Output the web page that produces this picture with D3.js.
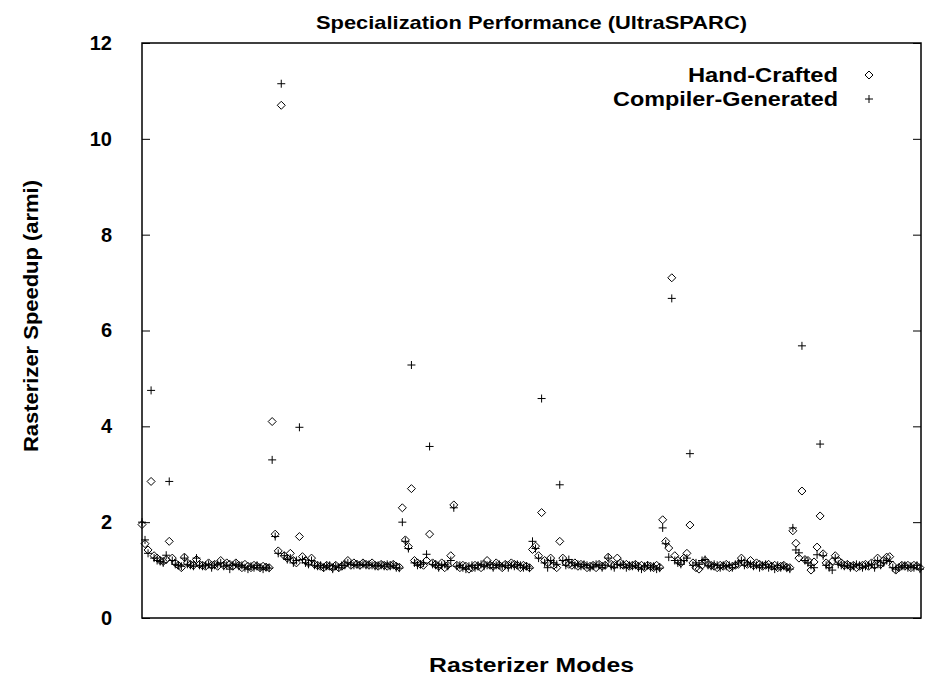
<!DOCTYPE html>
<html>
<head>
<meta charset="utf-8">
<script src="https://cdn.jsdelivr.net/npm/d3@7"></script>
<style>
  body { margin: 0; background: #fff; }
  svg text { font-family: "Liberation Sans", Arial, sans-serif; font-weight: bold; }
</style>
</head>
<body>
<div id="chart"></div>
<script>
const yTicks = [0, 2, 4, 6, 8, 10, 12];

// six groups of 43 rasterizer modes
const handCrafted = [
  // group 1
  1.95, 1.55, 1.42, 2.85, 1.3, 1.25, 1.2, 1.18, 1.22, 1.6, 1.25, 1.15, 1.1, 1.05, 1.27, 1.15, 1.12, 1.1, 1.22, 1.12, 1.1, 1.08,
  1.15, 1.1, 1.12, 1.08, 1.2, 1.1, 1.15, 1.12, 1.08, 1.15, 1.1, 1.05, 1.12, 1.08, 1.05, 1.1, 1.08, 1.05, 1.08, 1.06, 1.05,
  // group 2
  4.1, 1.75, 1.4, 10.7, 1.3, 1.25, 1.35, 1.2, 1.15, 1.7, 1.28, 1.2, 1.15, 1.25, 1.12, 1.1, 1.08, 1.05, 1.1, 1.08, 1.05, 1.1,
  1.05, 1.08, 1.12, 1.2, 1.1, 1.15, 1.12, 1.1, 1.15, 1.12, 1.1, 1.15, 1.1, 1.08, 1.12, 1.1, 1.08, 1.1, 1.12, 1.08, 1.06,
  // group 3
  2.3, 1.63, 1.49, 2.7, 1.2, 1.15, 1.12, 1.1, 1.2, 1.75, 1.15, 1.12, 1.08, 1.15, 1.05, 1.1, 1.3, 2.36, 1.1, 1.05, 1.1, 1.08,
  1.02, 1.05, 1.1, 1.08, 1.05, 1.12, 1.2, 1.1, 1.08, 1.15, 1.1, 1.05, 1.12, 1.1, 1.15, 1.12, 1.1, 1.05, 1.1, 1.08, 1.05,
  // group 4
  1.43, 1.5, 1.3, 2.2, 1.2, 1.15, 1.25, 1.1, 1.05, 1.6, 1.25, 1.15, 1.12, 1.1, 1.15, 1.08, 1.12, 1.1, 1.05, 1.08, 1.1, 1.05,
  1.12, 1.08, 1.1, 1.27, 1.12, 1.1, 1.25, 1.15, 1.1, 1.12, 1.08, 1.1, 1.12, 1.08, 1.1, 1.05, 1.1, 1.08, 1.05, 1.1, 1.06,
  // group 5
  2.05, 1.6, 1.46, 7.1, 1.3, 1.2, 1.15, 1.25, 1.35, 1.94, 1.15, 1.05, 1.02, 1.1, 1.2, 1.12, 1.1, 1.08, 1.05, 1.1, 1.08, 1.12,
  1.05, 1.08, 1.1, 1.12, 1.25, 1.15, 1.12, 1.2, 1.1, 1.15, 1.12, 1.08, 1.1, 1.12, 1.08, 1.1, 1.05, 1.08, 1.1, 1.06, 1.05,
  // group 6
  1.82, 1.56, 1.25, 2.65, 1.22, 1.2, 1.0, 1.17, 1.48, 2.13, 1.34, 1.15, 1.1, 1.18, 1.3, 1.2, 1.15, 1.1, 1.12, 1.08, 1.1, 1.05,
  1.08, 1.1, 1.12, 1.08, 1.15, 1.1, 1.25, 1.12, 1.2, 1.27, 1.28, 1.1, 1.0, 1.05, 1.1, 1.08, 1.1, 1.05, 1.1, 1.08, 1.05
];

const compilerGenerated = [
  // group 1
  2.0, 1.63, 1.35, 4.75, 1.25, 1.2, 1.18, 1.15, 1.31, 2.85, 1.2, 1.12, 1.1, 1.08, 1.25, 1.12, 1.1, 1.08, 1.25, 1.1, 1.08, 1.1,
  1.12, 1.05, 1.1, 1.12, 1.15, 1.08, 1.1, 1.02, 1.1, 1.12, 1.08, 1.1, 1.05, 1.02, 1.08, 1.05, 1.1, 1.05, 1.02, 1.06, 1.04,
  // group 2
  3.3, 1.7, 1.35, 11.15, 1.3, 1.22, 1.25, 1.15, 1.2, 3.98, 1.22, 1.15, 1.12, 1.2, 1.1, 1.08, 1.1, 1.05, 1.08, 1.1, 1.02, 1.08,
  1.05, 1.1, 1.1, 1.15, 1.12, 1.1, 1.12, 1.1, 1.12, 1.1, 1.12, 1.1, 1.08, 1.1, 1.1, 1.08, 1.12, 1.08, 1.1, 1.05, 1.04,
  // group 3
  2.0, 1.6, 1.45, 5.28, 1.15, 1.1, 1.12, 1.15, 1.33, 3.58, 1.12, 1.1, 1.05, 1.1, 1.12, 1.08, 1.2, 2.3, 1.08, 1.1, 1.05, 1.02,
  1.08, 1.1, 1.05, 1.1, 1.12, 1.08, 1.1, 1.12, 1.05, 1.1, 1.12, 1.08, 1.1, 1.05, 1.1, 1.08, 1.12, 1.1, 1.05, 1.08, 1.04,
  // group 4
  1.6, 1.45, 1.25, 4.58, 1.15, 1.05, 1.2, 1.15, 1.12, 2.78, 1.2, 1.1, 1.22, 1.15, 1.1, 1.12, 1.08, 1.12, 1.1, 1.05, 1.08, 1.12,
  1.1, 1.05, 1.1, 1.25, 1.08, 1.05, 1.12, 1.1, 1.12, 1.05, 1.1, 1.08, 1.1, 1.05, 1.02, 1.08, 1.1, 1.05, 1.08, 1.02, 1.04,
  // group 5
  1.88, 1.55, 1.27, 6.67, 1.2, 1.15, 1.12, 1.2, 1.25, 3.43, 1.1, 1.15, 1.12, 1.2, 1.22, 1.1, 1.08, 1.12, 1.1, 1.05, 1.1, 1.08,
  1.1, 1.05, 1.12, 1.15, 1.2, 1.1, 1.15, 1.12, 1.08, 1.1, 1.05, 1.1, 1.12, 1.05, 1.08, 1.02, 1.1, 1.05, 1.08, 1.04, 1.02,
  // group 6
  1.88, 1.42, 1.36, 5.68, 1.2, 1.15, 1.1, 1.05, 1.32, 3.63, 1.3, 1.1, 1.05, 1.0, 1.25, 1.12, 1.1, 1.08, 1.1, 1.05, 1.08, 1.12,
  1.1, 1.05, 1.08, 1.1, 1.12, 1.05, 1.2, 1.1, 1.15, 1.2, 1.18, 1.05, 1.02, 1.05, 1.08, 1.1, 1.05, 1.08, 1.05, 1.1, 1.02
];

const width = 927;
const height = 681;
const margin = { top: 43, right: 6, bottom: 63, left: 142 };

const svg = d3.select('#chart')
  .append('svg')
  .attr('width', width)
  .attr('height', height)
  .attr('viewBox', `0 0 ${width} ${height}`);

const x = d3.scaleLinear()
  .domain([0, handCrafted.length - 1])
  .range([margin.left, width - margin.right - 1]);

const y = d3.scaleLinear()
  .domain([0, 12])
  .range([height - margin.bottom, margin.top]);

// inward ticks on both sides, labels only on the left
const left = svg.append('g')
  .attr('transform', `translate(${margin.left},0)`)
  .call(d3.axisLeft(y).tickValues(yTicks).tickSizeInner(-8).tickSizeOuter(0).tickPadding(30));

left.select('.domain').remove();
left.selectAll('.tick line').attr('stroke', '#000').attr('stroke-width', 1);
left.selectAll('.tick text')
  .attr('fill', '#000')
  .style('font-size', '20px');

const right = svg.append('g')
  .attr('transform', `translate(${width - margin.right},0)`)
  .call(d3.axisRight(y).tickValues(yTicks).tickSizeInner(-8).tickSizeOuter(0).tickFormat(''));

right.select('.domain').remove();
right.selectAll('.tick line').attr('stroke', '#000').attr('stroke-width', 1);

svg.append('rect')
  .attr('x', margin.left)
  .attr('y', margin.top)
  .attr('width', width - margin.right - margin.left)
  .attr('height', height - margin.bottom - margin.top)
  .attr('fill', 'none')
  .attr('stroke', '#000')
  .attr('stroke-width', 1.5);

const diamond = (cx, cy, r) => `M${cx},${cy - r}L${cx + r},${cy}L${cx},${cy + r}L${cx - r},${cy}Z`;
const plus = (cx, cy, r) => `M${cx - r},${cy}H${cx + r}M${cx},${cy - r}V${cy + r}`;

const marks = svg.append('g')
  .attr('fill', 'none')
  .attr('stroke', '#000')
  .attr('stroke-width', 1);

marks.selectAll('path.hand')
  .data(handCrafted)
  .enter()
  .append('path')
  .attr('class', 'hand')
  .attr('d', (d, i) => diamond(x(i), y(d), 4));

marks.selectAll('path.comp')
  .data(compilerGenerated)
  .enter()
  .append('path')
  .attr('class', 'comp')
  .attr('d', (d, i) => plus(x(i), y(d), 4));

// the original text is a little wider than Arial, so stretch it to the measured widths
const stretched = (sel, len) => sel.attr('textLength', len).attr('lengthAdjust', 'spacingAndGlyphs');

const legend = [
  { label: 'Hand-Crafted', shape: diamond, len: 150 },
  { label: 'Compiler-Generated', shape: plus, len: 225 }
];

legend.forEach((item, i) => {
  const ly = 75 + i * 24;
  svg.append('text')
    .attr('x', 838)
    .attr('y', ly)
    .attr('dy', '0.35em')
    .attr('text-anchor', 'end')
    .style('font-size', '20px')
    .call(stretched, item.len)
    .text(item.label);
  svg.append('path')
    .attr('d', item.shape(869, ly, 4))
    .attr('fill', 'none')
    .attr('stroke', '#000');
});

const plotCenter = (margin.left + width - margin.right) / 2;

svg.append('text')
  .attr('x', plotCenter)
  .attr('y', 29)
  .attr('text-anchor', 'middle')
  .style('font-size', '19px')
  .call(stretched, 431)
  .text('Specialization Performance (UltraSPARC)');

svg.append('text')
  .attr('x', plotCenter)
  .attr('y', 672)
  .attr('text-anchor', 'middle')
  .style('font-size', '20px')
  .call(stretched, 205)
  .text('Rasterizer Modes');

svg.append('text')
  .attr('transform', `translate(38,316) rotate(-90)`)
  .attr('text-anchor', 'middle')
  .style('font-size', '20px')
  .call(stretched, 272)
  .text('Rasterizer Speedup (armi)');
</script>
</body>
</html>
